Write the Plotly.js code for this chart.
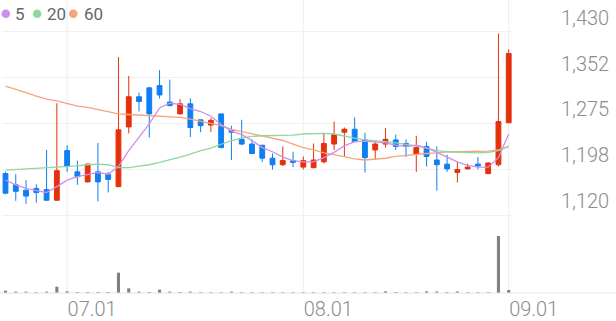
<!DOCTYPE html>
<html><head><meta charset="utf-8">
<script src="https://cdn.plot.ly/plotly-3.0.1.min.js"></script>
<style>html,body{margin:0;padding:0;background:#fff;overflow:hidden;} #chart{width:616px;height:321px;}</style>
</head><body><div id="chart"></div>
<script>
const dates = [
 '2025-06-23','2025-06-24','2025-06-25','2025-06-26','2025-06-27','2025-06-30',
 '2025-07-01','2025-07-02','2025-07-03','2025-07-04','2025-07-07','2025-07-08','2025-07-09','2025-07-10','2025-07-11',
 '2025-07-14','2025-07-15','2025-07-16','2025-07-17','2025-07-18','2025-07-21','2025-07-22','2025-07-23','2025-07-24','2025-07-25',
 '2025-07-28','2025-07-29','2025-07-30','2025-07-31',
 '2025-08-01','2025-08-04','2025-08-05','2025-08-06','2025-08-07','2025-08-08','2025-08-11','2025-08-12','2025-08-13','2025-08-14',
 '2025-08-18','2025-08-19','2025-08-20','2025-08-21','2025-08-22','2025-08-25','2025-08-26','2025-08-27','2025-08-28','2025-08-29',
 '2025-09-01'
];
const open  = [1190,1171,1162,1165,1163,1145,1229,1193,1176,1193,1189,1168,1269,1320,1335,1339,1311,1291,1308,1281,1272,1291,1263,1248,1240,1238,1216,1205,1212,1201,1200,1210,1240,1260,1265,1247,1230,1240,1247,1241,1223,1236,1213,1206,1192,1198,1206,1190,1205,1276];
const high  = [1193,1189,1179,1172,1230,1309,1238,1212,1207,1242,1193,1387,1355,1327,1336,1365,1349,1316,1317,1281,1284,1291,1271,1281,1248,1238,1224,1236,1227,1219,1241,1259,1278,1268,1285,1259,1244,1267,1256,1248,1254,1244,1236,1222,1210,1207,1218,1209,1427,1400];
const low   = [1155,1144,1139,1141,1144,1144,1193,1171,1175,1143,1158,1167,1258,1295,1251,1317,1304,1290,1252,1260,1260,1233,1213,1238,1224,1210,1197,1203,1201,1197,1199,1207,1230,1219,1244,1192,1213,1234,1230,1218,1193,1202,1161,1193,1175,1197,1197,1189,1202,1276];
const close = [1157,1160,1152,1158,1145,1195,1203,1185,1206,1176,1180,1264,1320,1312,1291,1323,1305,1308,1268,1271,1280,1234,1260,1240,1224,1216,1205,1212,1209,1212,1213,1241,1256,1265,1244,1217,1240,1248,1236,1236,1234,1219,1205,1198,1197,1201,1203,1208,1278,1393];
const ma5  = [1179,1171,1165,1162,1158,1168,1179,1185,1189,1192,1189,1202,1229,1252,1274,1301,1309,1307,1300,1295,1287,1273,1262,1256,1246,1234,1227,1218,1212,1210,1210,1217,1226,1237,1244,1245,1244,1242,1238,1236,1238,1234,1226,1218,1210,1204,1201,1201,1217,1257];
const ma20 = [1196,1197,1197,1198,1199,1200,1202,1203,1205,1206,1205,1200,1200,1202,1205,1209,1213,1218,1223,1229,1233,1240,1246,1250,1253,1254,1254,1255,1255,1257,1258,1258,1257,1253,1250,1247,1246,1244,1242,1240,1237,1233,1229,1227,1226,1225,1225,1226,1229,1236];
const ma60 = [1338,1333,1327,1321,1316,1313,1309,1304,1302,1298,1294,1291,1290,1289,1287,1286,1286,1285,1282,1278,1275,1271,1265,1261,1257,1254,1250,1246,1240,1234,1230,1225,1222,1218,1215,1213,1214,1216,1219,1221,1223,1224,1225,1227,1227,1227,1227,1228,1230,1236];
const volume = [70000,40000,40000,25000,40000,190000,50000,30000,30000,30000,30000,610000,140000,40000,30000,100000,40000,30000,40000,25000,25000,25000,40000,25000,25000,25000,25000,25000,25000,25000,25000,25000,25000,25000,25000,25000,25000,50000,30000,25000,25000,50000,45000,30000,45000,25000,25000,25000,1710000,90000];
const tickDates = ['2025-07-01','2025-08-01','2025-09-01'];
const tickLabels = ['07.01','08.01','09.01'];
const priceTicks = [1120,1197.5,1275,1352.5,1430];
const priceLabels = ['1,120','1,198','1,275','1,352','1,430'];
const maNames = ['5','20','60'];
const maColors = ['#cf8fea','#8fd8a0','#f7a47c'];

const RED = '#e5300c', BLUE = '#0f7ef3';
const W = 616, H = 321, PB = 293;

const traces = [
  {type:'bar', x:dates, y:volume, yaxis:'y2', marker:{color:'#808080'}, width:0.3, hoverinfo:'skip'},
  {type:'candlestick', x:dates, open:open, high:high, low:low, close:close, yaxis:'y',
   increasing:{line:{color:RED,width:1}, fillcolor:RED},
   decreasing:{line:{color:BLUE,width:1}, fillcolor:BLUE},
   whiskerwidth:0, hoverinfo:'skip'},
  {type:'scatter', mode:'lines', x:dates, y:ma60, line:{color:maColors[2],width:1.3}, hoverinfo:'skip'},
  {type:'scatter', mode:'lines', x:dates, y:ma20, line:{color:maColors[1],width:1.3}, hoverinfo:'skip'},
  {type:'scatter', mode:'lines', x:dates, y:ma5, line:{color:maColors[0],width:1.3}, hoverinfo:'skip'}
];

const shapes = [];
tickDates.forEach(d => {
  const i = dates.indexOf(d);
  shapes.push({type:'line', xref:'x', yref:'paper', x0:i, x1:i, y0:0, y1:1, layer:'below', line:{color:'#eeeeee', width:1}});
});
shapes.push({type:'line', xref:'paper', yref:'paper', x0:0, x1:1, y0:0, y1:0, line:{color:'#e4e4e4', width:1}});

const legendCx = [5.8, 37.2, 73.3];
const legendTx = [14, 46, 82.5];
const legendCy = 13.8;
const annotations = [];
maNames.forEach((n, k) => {
  shapes.push({type:'circle', xref:'paper', yref:'paper', xsizemode:'pixel', ysizemode:'pixel',
    xanchor:legendCx[k]/W, yanchor:1 - legendCy/PB, x0:-4.3, x1:4.3, y0:-4.3, y1:4.3,
    fillcolor:maColors[k], line:{width:0}});
  annotations.push({xref:'paper', yref:'paper', x:legendTx[k]/W, y:1 - 14.5/PB, xanchor:'left', yanchor:'middle',
    text:n, showarrow:false, font:{family:'Roboto, sans-serif', size:17, color:'#666666'}, borderpad:0});
});

const axisFont = {family:'Roboto, sans-serif', size:20, color:'#8c8c8c', weight:300};

const layout = {
  width:W, height:H, margin:{l:0, r:0, t:0, b:H-PB}, paper_bgcolor:'#ffffff', plot_bgcolor:'#ffffff',
  showlegend:false, font:{family:'Roboto, sans-serif', color:'#8c8c8c', size:20},
  boxgap:0.33,
  xaxis:{type:'category', domain:[2/W, 512/W], range:[-0.341, 49.32], showgrid:false, zeroline:false, showline:false,
    ticks:'', tickvals:tickDates, ticktext:tickLabels, anchor:'y2', rangeslider:{visible:false},
    ticklabelshift:25, ticklabelstandoff:2, tickfont:axisFont, fixedrange:true},
  yaxis:{domain:[68/PB, 1], range:[1103.1, 1483.6], side:'right', tickvals:priceTicks, ticktext:priceLabels,
    showgrid:true, gridcolor:'#f0f0f0', gridwidth:1, zeroline:false, showline:false, ticks:'',
    ticklabelstandoff:48, ticklabelshift:-14, tickfont:axisFont, fixedrange:true},
  yaxis2:{domain:[0, 63/PB], range:[0, 1890000], showgrid:false, showticklabels:false, zeroline:false, showline:false, fixedrange:true},
  shapes:shapes, annotations:annotations
};

Plotly.newPlot('chart', traces, layout, {displayModeBar:false, staticPlot:true});
</script></body></html>
